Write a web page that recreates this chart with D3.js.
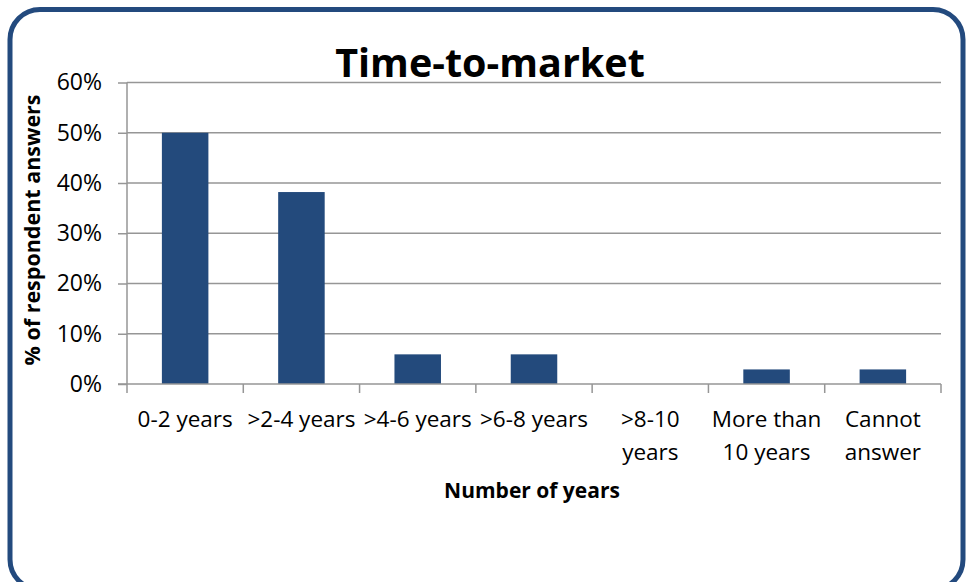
<!DOCTYPE html>
<html>
<head>
<meta charset="utf-8">
<script src="https://cdn.jsdelivr.net/npm/d3@7"></script>
<style>
  body { margin: 0; background: #fff; }
  text { font-family: "Open Sans", Lato, sans-serif; fill: #000; }
</style>
</head>
<body>
<script>
/* chart data */
var categories = ["0-2 years", ">2-4 years", ">4-6 years", ">6-8 years", ">8-10 years", "More than 10 years", "Cannot answer"];
var categoryLines = [["0-2 years"], [">2-4 years"], [">4-6 years"], [">6-8 years"], [">8-10", "years"], ["More than", "10 years"], ["Cannot", "answer"]];
var values = [50, 38.2, 5.9, 5.9, 0, 2.9, 2.9];
var yTicks = [0, 10, 20, 30, 40, 50, 60];

var W = 966, H = 582;
var plotLeft = 127, plotRight = 941, plotTop = 82.5, plotBottom = 384;

var svg = d3.select("body").append("svg")
    .attr("width", W).attr("height", H);

/* rounded frame */
svg.append("rect")
    .attr("x", 10).attr("y", 9.5)
    .attr("width", 953).attr("height", 580)
    .attr("rx", 30).attr("ry", 30)
    .attr("fill", "none")
    .attr("stroke", "#234a7e")
    .attr("stroke-width", 5);

var x = d3.scaleBand().domain(categories).range([plotLeft, plotRight]).paddingInner(0.6).paddingOuter(0.3);
var xb = d3.scaleBand().domain(categories).range([plotLeft, plotRight]);
var y = d3.scaleLinear().domain([0, 60]).range([plotBottom, plotTop]);

/* gridlines */
svg.append("g").selectAll("line")
    .data(yTicks.slice(1))
    .enter().append("line")
    .attr("x1", plotLeft).attr("x2", plotRight)
    .attr("y1", function(d) { return y(d) }).attr("y2", function(d) { return y(d) })
    .attr("stroke", "#969696").attr("stroke-width", 1.5);

/* bars */
svg.append("g").selectAll("rect")
    .data(values)
    .enter().append("rect")
    .attr("x", function(d, i) { return x(categories[i]) })
    .attr("width", x.bandwidth())
    .attr("y", function(d) { return y(d) })
    .attr("height", function(d) { return plotBottom - y(d) })
    .attr("fill", "#234a7c");

/* y axis */
var yAxis = svg.append("g")
    .attr("transform", "translate(" + plotLeft + ",0)")
    .call(d3.axisLeft(y).tickValues(yTicks).tickSize(9).tickPadding(16).tickFormat(function(d) { return d + "%" }));
yAxis.select(".domain").attr("stroke", "#969696").attr("stroke-width", 1.5).attr("d", "M0," + plotTop + "V" + plotBottom);
yAxis.selectAll(".tick line").attr("stroke", "#969696").attr("stroke-width", 1.5);
yAxis.selectAll(".tick text").style("font-size", "23px").attr("fill", "#000");

/* x axis */
var xAxis = svg.append("g")
    .attr("transform", "translate(0," + plotBottom + ")");
xAxis.append("line")
    .attr("x1", plotLeft - 9).attr("x2", plotRight)
    .attr("stroke", "#969696").attr("stroke-width", 1.5);
xAxis.selectAll(".xt")
    .data(categories.concat(["end"]))
    .enter().append("line")
    .attr("class", "xt")
    .attr("x1", function(d, i) { return i < categories.length ? xb(d) : plotRight })
    .attr("x2", function(d, i) { return i < categories.length ? xb(d) : plotRight })
    .attr("y1", 0).attr("y2", 9)
    .attr("stroke", "#969696").attr("stroke-width", 1.5);

var labels = xAxis.selectAll(".xl")
    .data(categoryLines)
    .enter().append("text")
    .attr("class", "xl")
    .attr("text-anchor", "middle")
    .style("font-size", "22.5px")
    .attr("transform", function(d, i) { return "translate(" + (xb(categories[i]) + xb.bandwidth() / 2) + ",0)" });
labels.selectAll("tspan")
    .data(function(d) { return d })
    .enter().append("tspan")
    .attr("x", 0)
    .attr("y", function(d, i) { return 43 + i * 33 })
    .text(function(d) { return d });

/* titles */
svg.append("text")
    .attr("x", 490).attr("y", 77)
    .attr("text-anchor", "middle")
    .style("font-size", "39.5px").style("font-weight", "bold")
    .text("Time-to-market");

svg.append("text")
    .attr("x", 532).attr("y", 498)
    .attr("text-anchor", "middle")
    .style("font-size", "21px").style("font-weight", "bold")
    .text("Number of years");

svg.append("text")
    .attr("transform", "translate(40,230) rotate(-90)")
    .attr("text-anchor", "middle")
    .style("font-size", "21.5px").style("font-weight", "bold")
    .text("% of respondent answers");
</script>
</body>
</html>
